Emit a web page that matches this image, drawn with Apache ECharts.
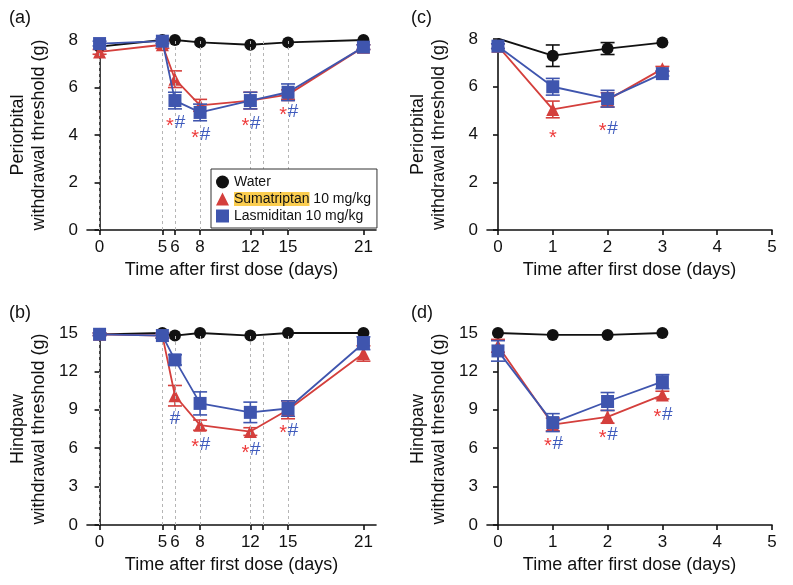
<!DOCTYPE html>
<html>
<head>
<meta charset="utf-8">
<script src="https://cdn.jsdelivr.net/npm/echarts@6/dist/echarts.min.js"></script>
<style>html,body{margin:0;padding:0;background:#fff}#c{width:793px;height:585px}</style>
</head>
<body>
<div id="c"></div>
<script>
// ---------- data ----------
const daysAB = [0, 5, 6, 8, 12, 15, 21];
const daysCD = [0, 1, 2, 3];
const tickDaysAB = [0, 5, 6, 8, 12, 13, 15, 21];
const labelDaysAB = [0, 5, 6, 8, 12, 15, 21];
const guideDaysAB = [0, 5, 6, 8, 12, 13, 15];
const tickDaysCD = [0, 1, 2, 3, 4, 5];

const aWater = [7.72, 8.0, 8.0, 7.9, 7.8, 7.9, 8.0];
const aWaterErr = [0, 0, 0, 0, 0, 0, 0];
const aSuma = [7.5, 7.8, 6.35, 5.25, 5.45, 5.7, 7.7];
const aSumaErr = [0.1, 0.15, 0.35, 0.25, 0.35, 0.2, 0.1];
const aLasm = [7.85, 7.95, 5.45, 4.95, 5.45, 5.8, 7.7];
const aLasmErr = [0.1, 0.1, 0.35, 0.35, 0.35, 0.35, 0.1];

const bWater = [14.9, 15.0, 14.8, 15.0, 14.8, 15.0, 15.0];
const bWaterErr = [0, 0, 0, 0, 0, 0, 0];
const bSuma = [14.9, 14.8, 10.1, 7.8, 7.3, 9.0, 13.4];
const bSumaErr = [0.1, 0.2, 0.8, 0.4, 0.3, 0.7, 0.6];
const bLasm = [14.9, 14.8, 12.9, 9.5, 8.8, 9.1, 14.2];
const bLasmErr = [0.1, 0.2, 0.4, 0.9, 0.8, 0.6, 0.5];

const cWater = [8.02, 7.3, 7.6, 7.85];
const cWaterErr = [0, 0.45, 0.25, 0];
const cSuma = [7.7, 5.05, 5.45, 6.75];
const cSumaErr = [0.1, 0.35, 0.3, 0.1];
const cLasm = [7.7, 6.0, 5.5, 6.55];
const cLasmErr = [0.1, 0.35, 0.35, 0.1];

const dWater = [15.0, 14.85, 14.85, 15.0];
const dWaterErr = [0, 0, 0, 0];
const dSuma = [14.0, 7.85, 8.45, 10.15];
const dSumaErr = [0.5, 0.5, 0.5, 0.3];
const dLasm = [13.6, 8.0, 9.65, 11.2];
const dLasmErr = [0.8, 0.7, 0.7, 0.55];

const aNotes = [[6, 4.5, '*#'], [8, 4.0, '*#'], [12, 4.47, '*#'], [15, 4.96, '*#']];
const bNotes = [[6, 8.3, '#'], [8, 6.3, '*#'], [12, 5.85, '*#'], [15, 7.35, '*#']];
const cNotes = [[1, 3.95, '*'], [2, 4.26, '*#']];
const dNotes = [[1, 6.33, '*#'], [2, 7.03, '*#'], [3, 8.65, '*#']];

const seriesNames = ['Water', 'Sumatriptan 10 mg/kg', 'Lasmiditan 10 mg/kg'];
const panelLabels = ['(a)', '(b)', '(c)', '(d)'];
const yTitlesAB = ['Periorbital\nwithdrawal threshold (g)', 'Hindpaw\nwithdrawal threshold (g)'];
const xTitle = 'Time after first dose (days)';

// ---------- styling ----------
const FONT = 'Liberation Sans, Arial, Helvetica, sans-serif';
const BLACK = '#111111', RED = '#d43f3c', BLUE = '#3f55ae', STAR = '#ee3b3b', HASH = '#3f5bbd';
const colors = [BLACK, RED, BLUE];
const symbols = ['circle', 'triangle', 'rect'];
const symSizes = [12, 13, 13];

const panels = [
  {days: daysAB, vals: [aWater, aSuma, aLasm], errs: [aWaterErr, aSumaErr, aLasmErr], notes: aNotes, guides: guideDaysAB,
   grid: {left: 87, top: 40, width: 289, height: 190}, xmin: -1, xmax: 22, ticks: tickDaysAB, labels: labelDaysAB,
   ymax: 8, yint: 2, ytitle: yTitlesAB[0]},
  {days: daysAB, vals: [bWater, bSuma, bLasm], errs: [bWaterErr, bSumaErr, bLasmErr], notes: bNotes, guides: guideDaysAB,
   grid: {left: 87, top: 333, width: 289, height: 192}, xmin: -1, xmax: 22, ticks: tickDaysAB, labels: labelDaysAB,
   ymax: 15, yint: 3, ytitle: yTitlesAB[1]},
  {days: daysCD, vals: [cWater, cSuma, cLasm], errs: [cWaterErr, cSumaErr, cLasmErr], notes: cNotes, guides: null,
   grid: {left: 487, top: 39, width: 285, height: 191}, xmin: -0.2, xmax: 5, ticks: tickDaysCD, labels: tickDaysCD,
   ymax: 8, yint: 2, ytitle: yTitlesAB[0]},
  {days: daysCD, vals: [dWater, dSuma, dLasm], errs: [dWaterErr, dSumaErr, dLasmErr], notes: dNotes, guides: null,
   grid: {left: 487, top: 333, width: 285, height: 192}, xmin: -0.2, xmax: 5, ticks: tickDaysCD, labels: tickDaysCD,
   ymax: 15, yint: 3, ytitle: yTitlesAB[1]}
];
const titlePos = [[4, 4], [4, 299], [406, 4], [406, 299]];

function renderErr(params, api) {
  const x = api.value(0), lo = api.value(1), hi = api.value(2);
  if (hi - lo <= 0) return null;
  const p1 = api.coord([x, hi]), p2 = api.coord([x, lo]);
  const w = 7;
  const st = {stroke: api.visual('color'), lineWidth: 1.6};
  return {type: 'group', children: [
    {type: 'line', shape: {x1: p1[0], y1: p1[1], x2: p2[0], y2: p2[1]}, style: st},
    {type: 'line', shape: {x1: p1[0] - w, y1: p1[1], x2: p1[0] + w, y2: p1[1]}, style: st},
    {type: 'line', shape: {x1: p2[0] - w, y1: p2[1], x2: p2[0] + w, y2: p2[1]}, style: st}
  ]};
}

function makeNoteRenderer(notes) {
  return function (params, api) {
    const n = notes[params.dataIndex];
    const c = api.coord([n[0], n[1]]);
    const txt = n[2];
    const children = [];
    const hasStar = txt.indexOf('*') >= 0, hasHash = txt.indexOf('#') >= 0;
    const both = hasStar && hasHash;
    if (hasStar) {
      children.push({type: 'text', x: c[0] - (both ? 5 : 0), y: c[1] + 3,
        style: {text: '*', fill: STAR, fontSize: 20, fontFamily: FONT, align: 'center', verticalAlign: 'middle'}});
    }
    if (hasHash) {
      children.push({type: 'text', x: c[0] + (both ? 5 : 0), y: c[1],
        style: {text: '#', fill: HASH, fontSize: 19, fontFamily: FONT, align: 'center', verticalAlign: 'middle'}});
    }
    return {type: 'group', children: children};
  };
}

const grids = [], xAxes = [], yAxes = [], series = [], titles = [];
panels.forEach((p, i) => {
  grids.push(Object.assign({containLabel: false}, p.grid));
  titles.push({text: panelLabels[i], left: titlePos[i][0], top: titlePos[i][1],
    textStyle: {fontSize: 18, fontWeight: 'normal', fontFamily: FONT, color: BLACK}});
  xAxes.push({
    type: 'value', gridIndex: i, min: p.xmin, max: p.xmax,
    name: xTitle, nameLocation: 'middle', nameGap: 31,
    nameTextStyle: {fontSize: 18, fontFamily: FONT, color: BLACK},
    axisLine: {onZero: false, lineStyle: {color: BLACK, width: 1.6}},
    axisTick: {show: true, length: 5, lineStyle: {color: BLACK, width: 1.6}, customValues: p.ticks},
    axisLabel: {fontSize: 17, fontFamily: FONT, color: BLACK, margin: 9, customValues: p.labels},
    splitLine: {show: false}
  });
  yAxes.push({
    type: 'value', gridIndex: i, min: 0, max: p.ymax, interval: p.yint,
    name: p.ytitle, nameLocation: 'middle', nameGap: 37,
    nameTextStyle: {fontSize: 18, fontFamily: FONT, color: BLACK, lineHeight: 21},
    axisLine: {show: true, lineStyle: {color: BLACK, width: 1.6}},
    axisTick: {show: true, length: 5, lineStyle: {color: BLACK, width: 1.6}},
    axisLabel: {fontSize: 17, fontFamily: FONT, color: BLACK, margin: 9},
    splitLine: {show: false}
  });
  for (let k = 0; k < 3; k++) {
    const s = {
      type: 'line', name: seriesNames[k], xAxisIndex: i, yAxisIndex: i,
      data: p.days.map((d, j) => [d, p.vals[k][j]]),
      symbol: symbols[k], symbolSize: symSizes[k], showAllSymbol: true,
      lineStyle: {color: colors[k], width: 1.8},
      itemStyle: {color: colors[k]},
      z: 3 + k, animation: false
    };
    if (k === 0 && p.guides) {
      s.markLine = {
        silent: true, symbol: ['none', 'none'], label: {show: false}, animation: false,
        lineStyle: {type: [3, 3], color: '#b5b5b5', width: 1},
        data: p.guides.map(g => ({xAxis: g}))
      };
    }
    series.push(s);
    series.push({
      type: 'custom', name: 'err' + i + '_' + k, xAxisIndex: i, yAxisIndex: i,
      renderItem: renderErr, encode: {x: 0, y: [1, 2]},
      data: p.days.map((d, j) => [d, p.vals[k][j] - p.errs[k][j], p.vals[k][j] + p.errs[k][j]]),
      itemStyle: {color: colors[k]}, z: 3 + k, animation: false, silent: true
    });
  }
  series.push({
    type: 'custom', name: 'notes' + i, xAxisIndex: i, yAxisIndex: i,
    renderItem: makeNoteRenderer(p.notes), encode: {x: 0, y: 1},
    data: p.notes.map(n => [n[0], n[1]]), silent: true, animation: false, z: 10
  });
});

const option = {
  backgroundColor: '#ffffff',
  animation: false,
  title: titles,
  grid: grids,
  xAxis: xAxes,
  yAxis: yAxes,
  legend: {
    data: [{name: seriesNames[0], icon: 'circle'}, {name: seriesNames[1], icon: 'triangle'}, {name: seriesNames[2], icon: 'rect'}],
    orient: 'vertical', left: 211, top: 169, width: 162, z: 50,
    padding: [6, 6, 5, 5], itemGap: 3, itemWidth: 13, itemHeight: 13,
    borderColor: '#333', borderWidth: 1, backgroundColor: '#fff',
    textStyle: {fontSize: 14, fontFamily: FONT, color: BLACK,
      rich: {hl: {backgroundColor: '#fbcd4f', fontSize: 14, fontFamily: FONT, color: BLACK}}},
    formatter: (name) => name === seriesNames[1] ? '{hl|Sumatriptan} 10 mg/kg' : name,
    selectedMode: false
  },
  series: series
};

const chart = echarts.init(document.getElementById('c'), null, {renderer: 'canvas'});
chart.setOption(option);
</script>
</body>
</html>
